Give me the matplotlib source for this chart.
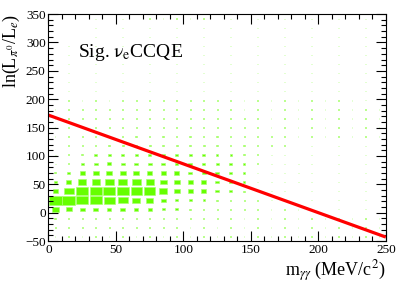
import numpy as np
import matplotlib.pyplot as plt
from matplotlib.patches import Rectangle
from matplotlib.collections import PatchCollection
from matplotlib.ticker import MultipleLocator
import matplotlib
matplotlib.rcParams['font.family'] = 'Liberation Serif'
matplotlib.rcParams['mathtext.fontset'] = 'stix'

# bins: m_gg 0-250 (10 MeV), ln(Lpi0/Le) -50..350 (16 per bin)
x_edges = np.linspace(0, 250, 26)
y_edges = np.linspace(-50, 350, 26)

# box content (percent of max), rows from y=-42 up to y=342, columns x=5..245
content = [
    [4, 4, 4, 4, 4, 4, 4, 4, 4, 4, 4, 3, 3, 3, 3, 3, 3, 3, 3, 3, 3, 3, 3, 3, 3],
    [6, 6, 6, 6, 6, 6, 6, 6, 6, 6, 5, 5, 5, 5, 4, 4, 4, 4, 4, 4, 4, 4, 4, 4, 3],
    [12, 10, 10, 10, 10, 10, 10, 9, 9, 8, 8, 7, 6, 6, 5, 5, 5, 5, 5, 4, 4, 4, 4, 4, 4],
    [52, 47, 38, 37, 35, 35, 32, 30, 24, 20, 17, 12, 9, 7, 6, 5, 5, 5, 5, 5, 4, 4, 4, 4, 4],
    [100, 100, 96, 94, 84, 74, 60, 55, 38, 28, 22, 17, 13, 11, 8, 7, 6, 5, 5, 5, 5, 4, 4, 4, 4],
    [38, 74, 94, 94, 95, 93, 85, 84, 66, 48, 38, 37, 27, 20, 11, 7, 6, 6, 5, 5, 5, 5, 4, 4, 4],
    [22, 40, 58, 63, 68, 73, 68, 63, 53, 45, 38, 37, 32, 22, 16, 9, 7, 6, 6, 5, 5, 5, 4, 4, 4],
    [11, 22, 40, 44, 45, 48, 48, 43, 40, 35, 30, 32, 27, 21, 16, 10, 7, 6, 6, 5, 5, 5, 4, 4, 4],
    [6, 11, 22, 30, 32, 30, 30, 30, 27, 27, 27, 27, 24, 19, 15, 10, 7, 6, 6, 5, 5, 5, 4, 4, 4],
    [5, 8, 13, 19, 21, 21, 21, 21, 21, 19, 21, 23, 19, 16, 12, 8, 6, 6, 5, 5, 5, 5, 4, 4, 4],
    [4, 6, 8, 11, 13, 15, 16, 17, 16, 16, 16, 16, 15, 13, 10, 8, 6, 6, 5, 5, 5, 4, 4, 4, 4],
    [4, 5, 6, 8, 10, 12, 12, 12, 12, 12, 12, 12, 11, 10, 8, 7, 6, 5, 5, 5, 4, 4, 4, 4, 4],
    [3, 5, 6, 7, 8, 9, 9, 9, 9, 9, 9, 9, 9, 8, 7, 6, 5, 5, 5, 4, 4, 4, 4, 4, 4],
    [3, 4, 5, 6, 7, 7, 7, 7, 7, 7, 7, 7, 7, 6, 6, 5, 5, 4, 4, 4, 4, 4, 4, 4, 4],
    [2, 4, 5, 5, 6, 6, 6, 6, 6, 6, 6, 6, 6, 6, 5, 5, 4, 4, 4, 4, 4, 4, 4, 4, 3],
    [2, 4, 4, 5, 5, 5, 6, 6, 6, 6, 6, 6, 6, 5, 5, 4, 4, 4, 4, 4, 4, 4, 4, 3, 3],
    [2, 3, 4, 4, 5, 5, 5, 5, 5, 5, 5, 5, 5, 5, 4, 4, 4, 4, 4, 4, 4, 4, 3, 3, 3],
    [2, 3, 4, 4, 4, 5, 5, 5, 5, 5, 5, 5, 5, 4, 4, 4, 4, 4, 4, 4, 4, 3, 3, 3, 3],
    [0, 3, 3, 4, 4, 4, 4, 4, 4, 4, 4, 4, 4, 4, 4, 4, 4, 4, 4, 4, 3, 3, 3, 3, 3],
    [0, 3, 3, 4, 4, 4, 4, 4, 4, 4, 4, 4, 4, 4, 4, 4, 4, 3, 3, 3, 3, 3, 3, 3, 3],
    [0, 3, 3, 3, 4, 4, 4, 4, 4, 4, 4, 4, 4, 4, 4, 4, 3, 3, 3, 3, 3, 3, 3, 3, 3],
    [0, 3, 3, 3, 4, 4, 4, 4, 4, 4, 4, 4, 4, 4, 4, 3, 3, 3, 3, 3, 3, 3, 3, 3, 3],
    [0, 2, 3, 3, 3, 4, 4, 4, 4, 4, 4, 4, 4, 4, 3, 3, 3, 3, 3, 3, 3, 3, 3, 3, 3],
    [0, 2, 3, 3, 3, 3, 4, 4, 4, 4, 4, 4, 4, 3, 3, 3, 3, 3, 3, 3, 3, 3, 3, 3, 3],
    [0, 2, 3, 3, 3, 3, 3, 4, 4, 4, 4, 4, 3, 3, 3, 3, 3, 3, 3, 3, 3, 3, 3, 3, 3],
]

# cut line
cut_x = [0, 250]
cut_y = [172, -43]

fig = plt.figure(figsize=(4.07, 2.88), dpi=100)
ax = fig.add_axes([0.119, 0.163, 0.829, 0.788])

z = np.array(content, dtype=float)
zmax = z.max()
xc = 0.5 * (x_edges[:-1] + x_edges[1:])
yc = 0.5 * (y_edges[:-1] + y_edges[1:])
dx = x_edges[1] - x_edges[0]
dy = y_edges[1] - y_edges[0]
boxes = []
for j in range(len(yc)):
    for i in range(len(xc)):
        f = z[j, i] / zmax
        if f <= 0:
            continue
        w, h = f * dx * 0.97, f * dy * 0.97
        boxes.append(Rectangle((xc[i] - w / 2, yc[j] - h / 2), w, h))
ax.add_collection(PatchCollection(boxes, facecolor='#66ff00', edgecolor='#a8ff70',
                                  linewidth=0.45))

ax.plot(cut_x, cut_y, color='#ff0000', lw=2.3, solid_capstyle='butt')

ax.set_xlim(0, 250)
ax.set_ylim(-50, 350)
ax.xaxis.set_major_locator(MultipleLocator(50))
ax.xaxis.set_minor_locator(MultipleLocator(10))
ax.yaxis.set_major_locator(MultipleLocator(50))
ax.yaxis.set_minor_locator(MultipleLocator(10))
ax.tick_params(which='both', direction='in', top=True, right=True, labelsize=9.5, pad=2)
ax.tick_params(which='major', length=7, width=0.8)
ax.tick_params(which='minor', length=3.5, width=0.8)
for s in ax.spines.values():
    s.set_linewidth(0.8)

ax.text(22, 274, r'Sig. $\mathrm{\nu_{e}}$CCQE', fontsize=14)
ax.set_xlabel(r'm$_{\gamma\gamma}$ (MeV/c$^{2}$)', fontsize=13, loc='right', labelpad=2)
ax.set_ylabel(r'ln(L$_{\pi^{0}}$/L$_{e}$)', fontsize=13, loc='top', labelpad=2)

fig.savefig('out.png', dpi=100)
